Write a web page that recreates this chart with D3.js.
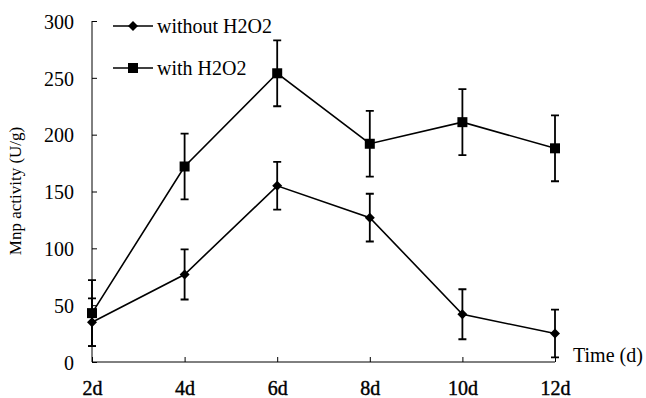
<!DOCTYPE html>
<html>
<head>
<meta charset="utf-8">
<script src="https://cdn.jsdelivr.net/npm/d3@7"></script>
<style>
    body { margin: 0; background: #fff; }
</style>
</head>
<body>
<div id="chart"></div>
<script>
"use strict";

const days = ["2d", "4d", "6d", "8d", "10d", "12d"];
const withoutH2O2 = [35, 77, 155, 127, 42, 25];
const withoutH2O2Err = [21, 22, 21, 21, 22, 21];
const withH2O2 = [43, 172, 254, 192, 211, 188];
const withH2O2Err = [29, 29, 29, 29, 29, 29];
const yTicks = [0, 50, 100, 150, 200, 250, 300];

const WIDTH = 646;
const HEIGHT = 398;
const LEFT = 92;
const RIGHT = 555;
const TOP = 21;
const BOTTOM = 362;
const FONT = "'Liberation Serif', 'Times New Roman', Times, 'DejaVu Serif', serif";

const svg = d3.select("#chart")
    .append("svg")
    .attr("width", WIDTH)
    .attr("height", HEIGHT)
    .attr("font-family", FONT);

const x = d3.scalePoint().domain(days).range([LEFT, RIGHT]).padding(0);
const y = d3.scaleLinear().domain([0, 300]).range([BOTTOM, TOP]);

function label(sel, size) {
    return sel
        .attr("font-family", FONT)
        .style("font-family", FONT)
        .style("font-size", size + "px")
        .attr("fill", "#000");
}

// Y axis: ticks point inward
const yAxis = svg.append("g")
    .attr("transform", `translate(${LEFT},0)`)
    .call(d3.axisRight(y).tickValues(yTicks).tickSize(5).tickFormat(""));
yAxis.attr("font-family", FONT);
yAxis.select(".domain").attr("d", `M0,${TOP}V${BOTTOM}`).attr("stroke", "#000");
yAxis.selectAll(".tick line").attr("stroke", "#000");

yAxis.selectAll(".tick")
    .append("text")
    .attr("x", -18)
    .attr("dy", "0.36em")
    .attr("text-anchor", "end")
    .text(d => d)
    .call(label, 20);

// X axis: ticks point upward
const xAxis = svg.append("g")
    .attr("transform", `translate(0,${BOTTOM})`)
    .call(d3.axisTop(x).tickSize(5).tickFormat(""));
xAxis.attr("font-family", FONT);
xAxis.select(".domain").attr("d", `M${LEFT},0H${RIGHT}`).attr("stroke", "#000");
xAxis.selectAll(".tick line").attr("stroke", "#000");

xAxis.selectAll(".tick")
    .append("text")
    .attr("y", 33)
    .attr("text-anchor", "middle")
    .attr("stroke", "#000")
    .attr("stroke-width", 0.4)
    .text(d => d)
    .call(label, 20);

svg.append("text")
    .attr("x", 573)
    .attr("y", 362)
    .text("Time (d)")
    .call(label, 20);

svg.append("text")
    .attr("transform", "translate(21,191) rotate(-90)")
    .attr("text-anchor", "middle")
    .text("Mnp activity (U/g)")
    .call(label, 17);

const series = [
    { name: "without H2O2", values: withoutH2O2, errors: withoutH2O2Err, marker: "diamond", legendY: 26 },
    { name: "with H2O2", values: withH2O2, errors: withH2O2Err, marker: "square", legendY: 68 }
];

const line = d3.line()
    .x((_, i) => x(days[i]))
    .y(d => y(d));

function drawMarker(g, kind, cx, cy) {
    if (kind === "square") {
        g.append("rect")
            .attr("x", cx - 5)
            .attr("y", cy - 5)
            .attr("width", 10)
            .attr("height", 10)
            .attr("fill", "#000");
    } else {
        g.append("path")
            .attr("d", `M${cx},${cy - 5}L${cx + 5},${cy}L${cx},${cy + 5}L${cx - 5},${cy}Z`)
            .attr("fill", "#000");
    }
}

series.forEach(s => {
    const g = svg.append("g");

    g.append("path")
        .datum(s.values)
        .attr("d", line)
        .attr("fill", "none")
        .attr("stroke", "#000")
        .attr("stroke-width", 1.6);

    // Error bars
    s.values.forEach((v, i) => {
        const cx = x(days[i]);
        const top = y(v + s.errors[i]);
        const bottom = y(Math.max(0, v - s.errors[i]));
        g.append("path")
            .attr("d", `M${cx},${top}V${bottom}M${cx - 4},${top}H${cx + 4}M${cx - 4},${bottom}H${cx + 4}`)
            .attr("fill", "none")
            .attr("stroke", "#000")
            .attr("stroke-width", 1.8);
    });

    s.values.forEach((v, i) => drawMarker(g, s.marker, x(days[i]), y(v)));

    // Legend
    const lg = svg.append("g");
    lg.append("line")
        .attr("x1", 113).attr("x2", 153)
        .attr("y1", s.legendY).attr("y2", s.legendY)
        .attr("stroke", "#000")
        .attr("stroke-width", 1.6);
    drawMarker(lg, s.marker, 133, s.legendY);
    lg.append("text")
        .attr("x", 157)
        .attr("y", s.legendY)
        .attr("dy", "0.36em")
        .text(s.name)
        .call(label, 20);
});
</script>
</body>
</html>
